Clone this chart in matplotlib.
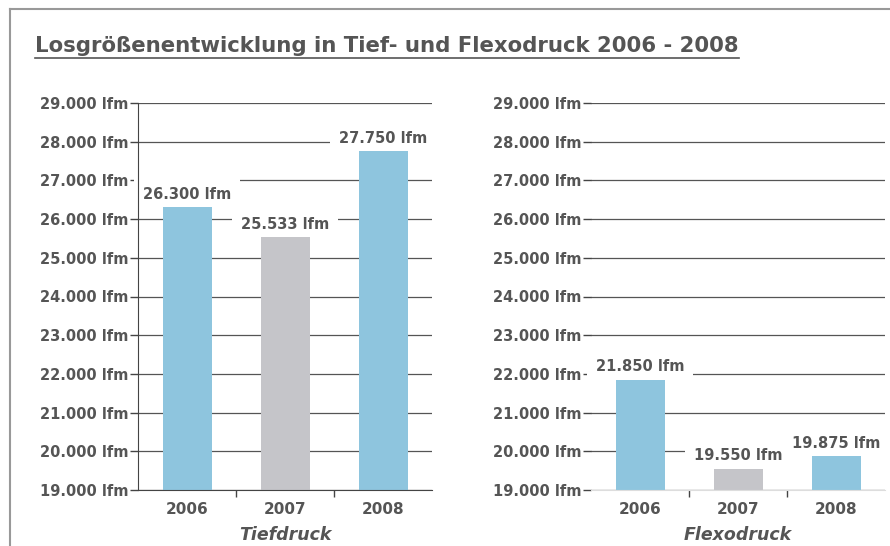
import matplotlib.pyplot as plt
from matplotlib.ticker import FuncFormatter
from matplotlib.lines import Line2D

years = ['2006', '2007', '2008']
tief_values = [26300, 25533, 27750]
flexo_values = [21850, 19550, 19875]
bar_colors = ['#8ec5de', '#c5c5c9', '#8ec5de']
y_ticks = list(range(19000, 29001, 1000))

text_col = '#555555'


def lfm(v, pos=None):
    return f"{v:,.0f}".replace(",", ".") + " lfm"


fig = plt.figure(figsize=(8.9, 5.46), dpi=100)
W, H = 890, 546

# frame around the picture
fig.add_artist(Line2D([10 / W, 1], [1 - 9 / H, 1 - 9 / H], color='#999999', lw=1.5))
fig.add_artist(Line2D([10 / W, 10 / W], [0, 1 - 9 / H], color='#999999', lw=1.5))

# title, underlined
title = fig.text(35 / W, 1 - 46 / H, 'Losgrößenentwicklung in Tief- und Flexodruck 2006 - 2008',
                 fontsize=15.3, fontweight='bold', color=text_col, va='center', ha='left')
fig.canvas.draw()
bb = title.get_window_extent().transformed(fig.transFigure.inverted())
fig.add_artist(Line2D([bb.x0, bb.x1], [bb.y0 - 2 / H, bb.y0 - 2 / H], color=text_col, lw=1.2))


def draw_panel(left, values, xlabel, spine_col, show_left):
    ax = fig.add_axes([left / W, 56 / H, 294 / W, 387 / H])
    x = range(len(years))
    ax.bar(x, values, width=0.5, color=bar_colors, zorder=3)
    ax.set_ylim(19000, 29000)
    ax.set_xlim(-0.5, 2.5)
    ax.set_yticks(y_ticks)
    ax.yaxis.set_major_formatter(FuncFormatter(lfm))
    ax.set_xticks([0.5, 1.5])
    ax.set_xticklabels([])
    ax.tick_params(axis='x', length=5, width=1, color='#444444', direction='out')
    ax.tick_params(axis='y', length=6, width=1, color='#444444', labelsize=10.5,
                   labelcolor=text_col, pad=1)
    for t in ax.get_yticklabels():
        t.set_fontweight('bold')
    ax.grid(axis='y', color='#555555', lw=0.9, zorder=1)
    for s in ['top', 'right']:
        ax.spines[s].set_visible(False)
    ax.spines['left'].set_visible(show_left)
    ax.spines['left'].set_color('#444444')
    ax.spines['left'].set_zorder(4)
    ax.spines['bottom'].set_color(spine_col)
    ax.spines['bottom'].set_zorder(4)
    for i, y in enumerate(years):
        ax.text(i, -19 / 387, y, transform=ax.get_xaxis_transform(), ha='center', va='center',
                fontsize=11, fontweight='bold', color=text_col)
    ax.text(0.5, -45 / 387, xlabel, transform=ax.transAxes, ha='center', va='center',
            fontsize=12.5, fontweight='bold', style='italic', color=text_col)
    for i, v in enumerate(values):
        ax.annotate(lfm(v), (i, v), xytext=(0, 4), textcoords='offset points',
                    ha='center', va='bottom', fontsize=10.5, fontweight='bold', color=text_col,
                    bbox=dict(boxstyle='square,pad=0.6', fc='white', ec='none'), zorder=2.5)
    return ax


draw_panel(138, tief_values, 'Tiefdruck', '#444444', True)
draw_panel(591, flexo_values, 'Flexodruck', '#dddddd', False)

fig.savefig('out.png', dpi=100)
